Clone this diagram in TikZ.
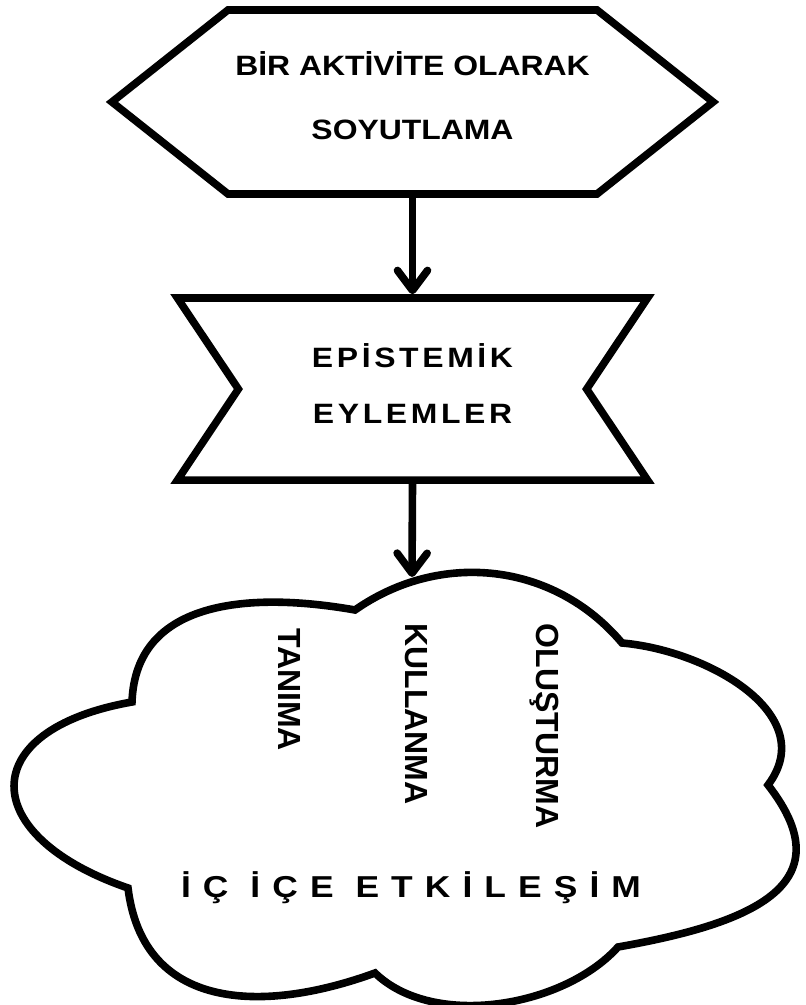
\documentclass[tikz,border=0pt]{standalone}
\usepackage{fontspec}
\setmainfont{Liberation Sans}
\newfontfamily\boxfont[FakeStretch=1.14]{Liberation Sans}
\newfontfamily\spacedfont[FakeStretch=1.14,LetterSpace=13]{Liberation Sans}
\newfontfamily\widefont[FakeStretch=1.17,LetterSpace=40]{Liberation Sans}
\usetikzlibrary{positioning,shapes.symbols,arrows.meta}

\begin{document}
\begin{tikzpicture}[
    x=0.025cm, y=0.025cm,
    outline/.style={line width=0.19cm, draw=black},
    pointbox/.style={signal, signal to=west and east, signal pointer angle=76.8, outline, minimum width=15.025cm, minimum height=4.6cm, align=center, text depth=0.32cm, font=\boxfont\bfseries\fontsize{19.9pt}{45.5pt}\selectfont},
    notchbox/.style={signal, signal to=nowhere, signal from=west and east, signal pointer angle=112.4, outline, minimum width=11.75cm, minimum height=4.55cm, align=center, text depth=0.3cm, font=\spacedfont\bfseries\fontsize{19.9pt}{39.8pt}\selectfont},
    flow/.style={-{Straight Barb[length=0.5cm,width=0.75cm,round]}, line width=0.19cm},
    upright/.style={rotate=-90, font=\bfseries\fontsize{22.75pt}{24pt}\selectfont}
]
\useasboundingbox (0,0) rectangle (806,1005);

\node[pointbox] (abstraction) at (412.5,903) {BİR AKTİVİTE OLARAK\\SOYUTLAMA};
\node[notchbox, below=2.41cm of abstraction] (actions) {EPİSTEMİK\\EYLEMLER};

% cloud
\draw[outline] (355,395) to[out=35,in=130] (622,362)
  to[out=-5,in=53,looseness=1.1] (768,220)
  to[out=-52,in=10,looseness=1.5] (618,58)
  to[out=228,in=-44,looseness=0.85] (375,32)
  to[out=200,in=-83,looseness=1.2] (128,117)
  to[out=161,in=190,looseness=2.2] (132,303)
  to[out=88,in=170,looseness=1.1] (355,395) -- cycle;
\coordinate (cloudtop) at (412,428);

\node[upright] (tanima) at (290,315) {TANIMA};
\node[upright] (kullanma) at (416,291) {KULLANMA};
\node[upright] (olusturma) at (544,279) {OLUŞTURMA};
\node[anchor=base, font=\widefont\bfseries\fontsize{21.5pt}{24pt}\selectfont] (interaction) at (411,107) {İÇ İÇE ETKİLEŞİM};

\draw[flow] (abstraction.south) -- (actions.north);
\draw[flow] (actions.south) -- (cloudtop);

\end{tikzpicture}
\end{document}
